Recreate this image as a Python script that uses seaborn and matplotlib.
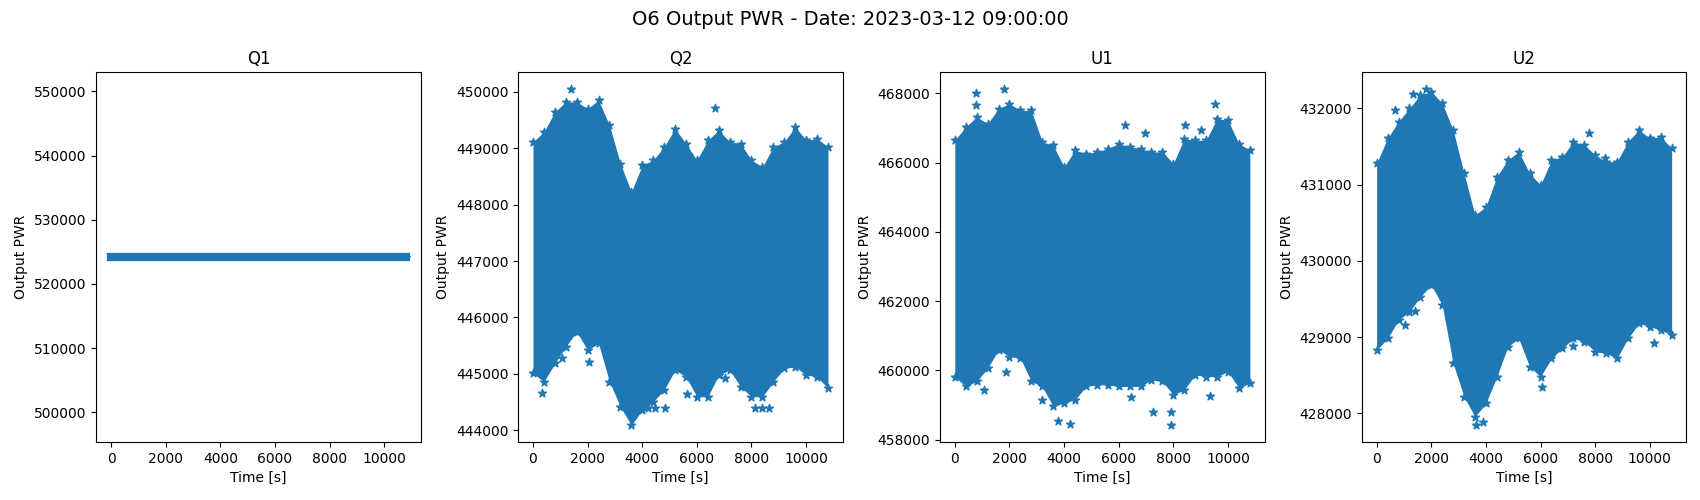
import numpy as np
import pandas as pd
import matplotlib
matplotlib.use('Agg')
import matplotlib.pyplot as plt
import seaborn as sns

# time samples along the envelope [s]
t_env = [0, 400, 800, 1200, 1600, 2000, 2400, 2800, 3200, 3600, 4000, 4400, 4800, 5200,
         5600, 6000, 6400, 6800, 7200, 7600, 8000, 8400, 8800, 9200, 9600, 10000, 10400, 10800]

# Q1 is flat
q1_level = 524200

# Q2 envelope + stray points
q2_upper = [449114, 449291, 449646, 449823, 449823, 449705, 449852, 449409, 448730, 448228,
            448700, 448789, 449025, 449350, 449084, 448789, 449143, 449321, 449114, 449084,
            448789, 448671, 449025, 449114, 449380, 449143, 449173, 449025]
q2_lower = [445009, 444861, 445186, 445481, 445747, 445422, 445540, 444861, 444418, 444090,
            444359, 444506, 444713, 445068, 444950, 444595, 444595, 444979, 445068, 444772,
            444595, 444595, 444861, 445097, 445127, 444979, 444950, 444743]
q2_out_t = [1410, 6660, 340, 2060, 5640, 4210, 4450, 4820, 8130, 8380, 8630, 1080, 7030]
q2_out_v = [450055, 449722, 444654, 445215, 444640, 444388, 444388, 444388, 444400, 444400,
            444400, 445274, 444920]

# U1
u1_upper = [466646, 467030, 467318, 467126, 467558, 467702, 467510, 467510, 466598, 466501,
            465877, 466357, 466261, 466309, 466405, 466550, 466453, 466405, 466309, 466309,
            465973, 466694, 466646, 466646, 467270, 467222, 466550, 466357]
u1_lower = [459825, 459537, 459681, 460065, 460594, 460402, 460354, 459681, 459537, 458961,
            459057, 459153, 459537, 459585, 459585, 459537, 459537, 459537, 459729, 459681,
            459297, 459441, 459873, 459825, 459825, 459969, 459489, 459633]
u1_out_t = [760, 1790, 760, 6220, 6950, 9520, 8410, 9010, 1080, 1870, 3210, 3760, 4220,
            6440, 7250, 7910, 7910, 9340]
u1_out_v = [468010, 468130, 467654, 467078, 466857, 467702, 467078, 466953, 459422, 459941,
            459133, 458528, 458451, 459230, 458788, 458797, 458420, 459268]

# U2
u2_upper = [431279, 431607, 431825, 432000, 432175, 432219, 432066, 431716, 431147, 430601,
            430710, 431104, 431322, 431432, 431147, 430994, 431322, 431366, 431563, 431519,
            431388, 431300, 431300, 431563, 431716, 431607, 431628, 431475]
u2_lower = [428830, 428983, 429224, 429333, 429530, 429683, 429421, 428655, 428218, 427956,
            428131, 428481, 428874, 428983, 428612, 428481, 428721, 428852, 428983, 428940,
            428808, 428787, 428721, 428983, 429180, 429136, 429093, 429027]
u2_out_t = [1800, 1340, 680, 7780, 8370, 10160, 7200, 6070, 3630, 3880, 1050, 1420]
u2_out_v = [432255, 432188, 431978, 431681, 431344, 428927, 428883, 428340, 427845, 427891,
            429158, 429346]

names = ['Q1', 'Q2', 'U1', 'U2']

fig, axes = plt.subplots(1, 4, figsize=(17, 5))
star = dict(marker='*', s=36, color='C0', edgecolor='C0', linewidth=1)

# Q1: flat band
ax = axes[0]
sns.lineplot(x=t_env, y=[q1_level] * len(t_env), ax=ax, color='C0', linewidth=6,
             marker='*', markersize=6, markeredgecolor='C0')

bands = [(q2_upper, q2_lower, q2_out_t, q2_out_v),
         (u1_upper, u1_lower, u1_out_t, u1_out_v),
         (u2_upper, u2_lower, u2_out_t, u2_out_v)]
for ax, (up, lo, ot, ov) in zip(axes[1:], bands):
    ax.fill_between(t_env, lo, up, color='C0', linewidth=0)
    sns.scatterplot(x=t_env, y=up, ax=ax, **star)
    sns.scatterplot(x=t_env, y=lo, ax=ax, **star)
    sns.scatterplot(x=ot, y=ov, ax=ax, **star)

for ax, name in zip(axes, names):
    ax.set_title(name)
    ax.set_xlabel('Time [s]')
    ax.set_ylabel('Output PWR')

fig.suptitle('O6 Output PWR - Date: 2023-03-12 09:00:00', fontsize=14)
fig.subplots_adjust(left=0.0567, right=0.992, top=0.856, bottom=0.116, wspace=0.3)
fig.savefig('out.png', dpi=100)
